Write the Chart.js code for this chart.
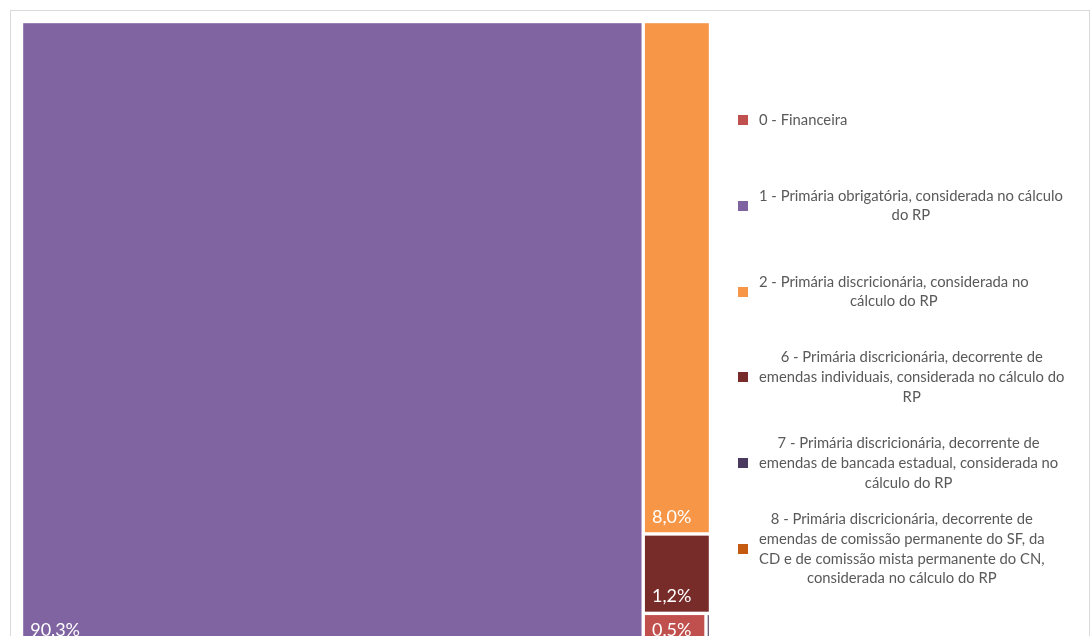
<!DOCTYPE html>
<html><head><meta charset="utf-8">
<script src="https://cdn.jsdelivr.net/npm/chart.js@4.4.0/dist/chart.umd.min.js"></script>
<style>
html,body{margin:0;padding:0;background:#fff;overflow:hidden}
#wrap{position:relative;width:1092px;height:636px;overflow:hidden}
canvas{display:block}
</style></head><body>
<div id="wrap"><canvas id="c" width="1092" height="660"></canvas></div>
<script>
// ---- data ----
const categories = [
  "0 - Financeira",
  "1 - Primária obrigatória, considerada no cálculo do RP",
  "2 - Primária discricionária, considerada no cálculo do RP",
  "6 - Primária discricionária, decorrente de emendas individuais, considerada no cálculo do RP",
  "7 - Primária discricionária, decorrente de emendas de bancada estadual, considerada no cálculo do RP",
  "8 - Primária discricionária, decorrente de emendas de comissão permanente do SF, da CD e de comissão mista permanente do CN, considerada no cálculo do RP"
];
const legendLines = [
  ["0 - Financeira"],
  ["1 - Primária obrigatória, considerada no cálculo", "do RP"],
  ["2 - Primária discricionária, considerada no", "cálculo do RP"],
  ["6 - Primária discricionária, decorrente de", "emendas individuais, considerada no cálculo do", "RP"],
  ["7 - Primária discricionária, decorrente de", "emendas de bancada estadual, considerada no", "cálculo do RP"],
  ["8 - Primária discricionária, decorrente de", "emendas de comissão permanente do SF, da", "CD e de comissão mista permanente do CN,", "considerada no cálculo do RP"]
];
const shares = [0.49, 90.26, 8.0, 1.24, 0.03, 0.005];
const colors = ["#c0504d", "#8064a2", "#f79646", "#772c2a", "#4b3a60", "#c55a11"];

// ---- squarified treemap layout (in plot-area units) ----
function worst(row, side) {
  const s = row.reduce((a, r) => a + r.a, 0);
  const mx = Math.max(...row.map(r => r.a)), mn = Math.min(...row.map(r => r.a));
  return Math.max(side * side * mx / (s * s), (s * s) / (side * side * mn));
}
function squarify(items, x, y, w, h) {
  const out = [];
  let rest = items.slice();
  while (rest.length) {
    const side = Math.min(w, h);
    const row = [rest[0]];
    let k = 1;
    while (k < rest.length && worst(row.concat([rest[k]]), side) <= worst(row, side)) { row.push(rest[k]); k++; }
    rest = rest.slice(k);
    const s = row.reduce((a, r) => a + r.a, 0);
    if (w >= h) {
      const cw = s / h; let yy = y;
      row.forEach(r => { const rh = r.a / cw; out.push(Object.assign({}, r, {x: x, y: yy, w: cw, h: rh})); yy += rh; });
      x += cw; w -= cw;
    } else {
      const rh = s / w; let xx = x;
      row.forEach(r => { const rw = r.a / rh; out.push(Object.assign({}, r, {x: xx, y: y, w: rw, h: rh})); xx += rw; });
      y += rh; h -= rh;
    }
  }
  return out;
}

const treemapPlugin = {
  id: 'treemap',
  beforeDraw(chart) {
    const ctx = chart.ctx;
    ctx.save();
    ctx.strokeStyle = '#d9d9d9';
    ctx.lineWidth = 1;
    ctx.strokeRect(10.5, 10.5, 1079, 700);
    ctx.restore();
  },
  afterDatasetsDraw(chart) {
    const ctx = chart.ctx, xs = chart.scales.x, ys = chart.scales.y, ca = chart.chartArea;
    const W = ca.right - ca.left, H = ca.bottom - ca.top;
    const total = shares.reduce((a, b) => a + b, 0);
    const items = shares.map((v, i) => ({i: i, v: v, a: v / total * W * H}))
      .sort((a, b) => b.v - a.v);
    const cells = squarify(items, 0, 0, W, H);
    const g = 1.7;
    ctx.save();
    cells.forEach(c => {
      const x0 = xs.getPixelForValue(c.x / W), x1 = xs.getPixelForValue((c.x + c.w) / W);
      const y0 = ys.getPixelForValue(c.y / H), y1 = ys.getPixelForValue((c.y + c.h) / H);
      const fx = x0 + g, fy = y0 + g, fw = x1 - x0 - 2 * g, fh = y1 - y0 - 2 * g;
      if (fw > 0 && fh > 0) {
        ctx.fillStyle = colors[c.i];
        ctx.fillRect(fx, fy, fw, fh);
      }
      if (fw > 45 && fh > 25) {
        ctx.fillStyle = '#ffffff';
        ctx.font = '18px Lato, "Noto Sans", sans-serif';
        ctx.textBaseline = 'alphabetic';
        ctx.textAlign = 'left';
        ctx.fillText(c.v.toFixed(1).replace('.', ',') + '%', fx + 7, fy + fh - 9.5);
      }
    });
    ctx.restore();
  },
  afterDraw(chart) {
    const ctx = chart.ctx;
    ctx.save();
    ctx.font = '14.8px Lato, "Noto Sans", sans-serif';
    ctx.textBaseline = 'middle';
    ctx.textAlign = 'center';
    const lineH = 19.7, firstC = 120, step = 85.8, boxL = 759;
    legendLines.forEach((lines, i) => {
      const cy = firstC + i * step;
      ctx.fillStyle = colors[i];
      ctx.fillRect(738, Math.round(cy - 5), 10, 10);
      const maxW = Math.max(...lines.map(l => ctx.measureText(l).width));
      const cx = boxL + maxW / 2;
      ctx.fillStyle = '#595959';
      lines.forEach((l, j) => {
        const ly = cy + (j - (lines.length - 1) / 2) * lineH;
        ctx.fillText(l, cx, ly);
      });
    });
    ctx.restore();
  }
};

new Chart(document.getElementById('c'), {
  type: 'scatter',
  data: { labels: categories, datasets: [{ label: 'Participação', data: [], backgroundColor: colors }] },
  options: {
    responsive: false,
    animation: false,
    devicePixelRatio: 1,
    layout: { padding: { left: 21.5, top: 21.5, right: 381.5, bottom: 13 } },
    scales: {
      x: { type: 'linear', min: 0, max: 1, display: false },
      y: { type: 'linear', min: 0, max: 1, reverse: true, display: false }
    },
    plugins: { legend: { display: false }, tooltip: { enabled: false } }
  },
  plugins: [treemapPlugin]
});
</script>
</body></html>
